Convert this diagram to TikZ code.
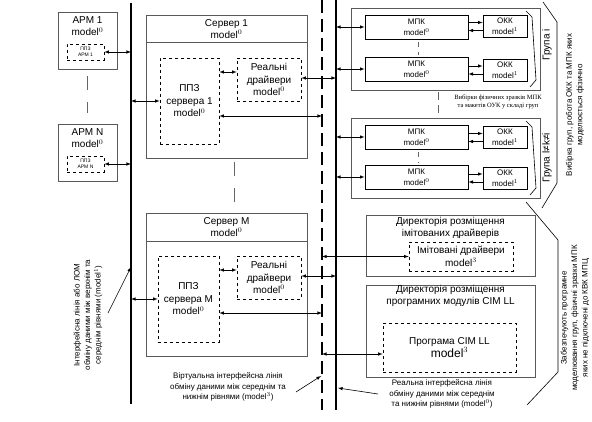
\documentclass[tikz,border=0pt]{standalone}
\usepackage{fontspec}
\setmainfont{Liberation Sans}
\newfontfamily\serifnote{Liberation Serif}
\usetikzlibrary{positioning}

\begin{document}
\begin{tikzpicture}[
    x=1pt, y=-1pt,
    box/.style={rectangle, draw=black!65, line width=0.9pt, inner sep=0pt},
    dbox/.style={rectangle, draw, dashed, line width=0.7pt, inner sep=0pt, align=center, font=\fontsize{10}{12.5}\selectfont},
    unit/.style={rectangle, draw, line width=0.8pt, inner sep=0pt, align=center, font=\fontsize{8}{11}\selectfont},
    title/.style={align=center, font=\fontsize{10}{12}\selectfont},
    note/.style={align=center, font=\fontsize{8}{10.5}\selectfont},
    arrow/.style={<->, >=latex, line width=0.6pt},
    arr/.style={->, >=latex, line width=0.6pt},
    bus/.style={line width=2.4pt},
    vbus/.style={line width=2.4pt, dash pattern=on 13pt off 6pt},
    gap/.style={line width=0.9pt, black!60, dash pattern=on 14pt off 12pt},
    brace/.style={line width=0.6pt}
]
    \useasboundingbox (0,0) rectangle (592,422);

    % Buses
    \coordinate (Ltop) at (131,3);
    \coordinate (Lbot) at (131,404);
    \coordinate (Vtop) at (322,0);
    \coordinate (Vbot) at (322,410);
    \coordinate (Rtop) at (336,0);
    \coordinate (Rbot) at (336,410);
    \draw [bus] (Ltop) -- (Lbot);
    \draw [vbus] (Vtop) -- (Vbot);
    \draw [bus, line width=2pt] (Rtop) -- (Rbot);

    % Workstations
    \node [box, minimum width=59, minimum height=57] (arm1) at (87.5,40.5) {};
    \node [title] (arm1t) at (87.5,26.5) {АРМ 1\\model$^0$};
    \node [dbox, minimum width=37, minimum height=16, font=\fontsize{5}{6}\selectfont] (ppzarm1) at (85.5,52) {ППЗ\\АРМ 1};
    \node [box, minimum width=59, minimum height=57] (armN) at (87.5,152.5) {};
    \node [title] (armNt) at (87.5,138.5) {АРМ N\\model$^0$};
    \node [dbox, minimum width=37, minimum height=16, font=\fontsize{5}{6}\selectfont] (ppzarmN) at (85.5,164) {ППЗ\\АРМ N};
    \draw [gap, shorten <=7pt, shorten >=11pt] (arm1) -- (armN);
    \draw [arrow] (ppzarm1.east) -- (ppzarm1.east -| Ltop);
    \draw [arrow] (ppzarmN.east) -- (ppzarmN.east -| Ltop);

    % Server 1
    \node [box, minimum width=161, minimum height=143] (srv1) at (226.5,86.5) {};
    \draw [line width=0.9pt, black!65] ([yshift=-28]srv1.north west) -- ([yshift=-28]srv1.north east);
    \node [title] (srv1t) at (226.5,29) {Сервер 1\\model$^0$};
    \node [dbox, minimum width=59, minimum height=86] (ppz1) at (189.5,101) {ППЗ\\сервера 1\\model$^0$};
    \node [dbox, minimum width=64, minimum height=43] (drv1) at (269,79.5) {Реальні\\драйвери\\model$^0$};
    \draw [arrow] (ppz1.west -| Ltop) -- (ppz1.west);
    \draw [arrow] ([yshift=7.5]drv1.west) -- ([yshift=7.5]drv1.west -| ppz1.east);
    \draw [arrow] ([yshift=1.5]drv1.east) -- ([yshift=1.5]drv1.east -| Rtop);
    \draw [arrow] ([yshift=-15]ppz1.east) -- ([yshift=-15]ppz1.east -| Vtop);

    % Server M
    \node [box, minimum width=161, minimum height=143] (srvM) at (226.5,284.5) {};
    \draw [line width=0.9pt, black!65] ([yshift=-29]srvM.north west) -- ([yshift=-29]srvM.north east);
    \node [title] (srvMt) at (226.5,227) {Сервер М\\model$^0$};
    \node [dbox, minimum width=61, minimum height=86] (ppzM) at (188.5,299) {ППЗ\\сервера М\\model$^0$};
    \node [dbox, minimum width=64, minimum height=43] (drvM) at (269,277.5) {Реальні\\драйвери\\model$^0$};
    \draw [arrow] (ppzM.west -| Ltop) -- (ppzM.west);
    \draw [arrow] ([yshift=7.5]drvM.west) -- ([yshift=7.5]drvM.west -| ppzM.east);
    \draw [arrow] ([yshift=1.5]drvM.east) -- ([yshift=1.5]drvM.east -| Rtop);
    \draw [arrow] ([yshift=-14]ppzM.east) -- ([yshift=-14]ppzM.east -| Vtop);
    \draw [gap, shorten <=4pt, shorten >=6pt] ([xshift=7.5]srv1.south) -- ([xshift=7.5]srvM.north);

    % Group i
    \node [box, minimum width=189, minimum height=82] (grpi) at (445.5,49) {};
    \node [unit, minimum width=103, minimum height=24] (mpk1) at (416.5,27) {МПК\\model$^0$};
    \node [unit, minimum width=103, minimum height=24] (mpk2) at (416.5,69) {МПК\\model$^0$};
    \node [unit, minimum width=44, minimum height=22] (okk1) at (505,26.5) {ОКК\\model$^1$};
    \node [unit, minimum width=44, minimum height=22] (okk2) at (505,70) {ОКК\\model$^1$};

    % Group l
    \node [box, minimum width=189, minimum height=80] (grpl) at (445.5,158) {};
    \node [unit, minimum width=103, minimum height=24] (mpk3) at (416.5,137) {МПК\\model$^0$};
    \node [unit, minimum width=103, minimum height=24] (mpk4) at (416.5,177) {МПК\\model$^0$};
    \node [unit, minimum width=44, minimum height=22] (okk3) at (505,137.5) {ОКК\\model$^1$};
    \node [unit, minimum width=44, minimum height=22] (okk4) at (505,178) {ОКК\\model$^1$};

    \foreach \m/\o in {mpk1/okk1, mpk2/okk2, mpk3/okk3, mpk4/okk4} {
        \draw [arr] ([yshift=4]\o.west -| \m.east) -- ([yshift=4]\o.west);
        \draw [arr] ([yshift=-4]\o.west) -- ([yshift=-4]\o.west -| \m.east);
        \draw [arrow] (\m.west -| Rtop) -- (\m.west);
    }
    \draw [gap, line width=0.7pt, dash pattern=on 5pt off 5pt, shorten <=3pt, shorten >=2pt] ([xshift=1.5]mpk1.south) -- ([xshift=1.5]mpk2.north);
    \draw [gap, line width=0.7pt, dash pattern=on 5pt off 5pt, shorten <=3pt, shorten >=2pt] ([xshift=1.5]mpk3.south) -- ([xshift=1.5]mpk4.north);
    \draw [gap, line width=0.9pt, dash pattern=on 8pt off 5pt, shorten <=2pt, shorten >=2pt] ([xshift=-7.5]grpi.south) -- ([xshift=-7.5]grpl.north);
    \node [font=\serifnote\fontsize{6.5}{8}\selectfont, align=center] (physnote) at (498,102) {Вибірки фізичних зразків МПК\\та макетів ОУК у складі груп};

    % Group labels and braces
    \draw [brace] (526,11) -- (532,17) -- (536,80) -- (530,87);
    \draw [brace] (526,121) -- (532,127) -- (536,188) -- (530,195);
    \node [title, rotate=90] (grpilbl) at (547,45) {Група і};
    \node [title, rotate=90] (grpllbl) at (547,158) {Група l≠k≠i};
    \draw [brace] (543,2) -- (557,22) -- (557,183) -- (542,208);
    \node [note, rotate=90] (selnote) at (575,105) {Вибірка груп, робота ОКК та МПК яких\\моделюється фізично};

    % Directories
    \node [box, minimum width=169, minimum height=61] (dir1) at (450.5,245.5) {};
    \node [title] (dir1t) at (450.5,228) {Директорія розміщення\\імітованих драйверів};
    \node [dbox, minimum width=104, minimum height=29] (imdrv) at (461,256.5) {Імітовані драйвери\\model$^3$};
    \draw [arrow] (imdrv.west -| Vtop) -- (imdrv.west);
    \node [box, minimum width=169, minimum height=92] (dir2) at (450.5,331) {};
    \node [title] (dir2t) at (450.5,295.5) {Директорія розміщення\\програмних модулів CIM LL};
    \node [dbox, minimum width=133, minimum height=49] (cim) at (449.5,347.5) {Програма CIM LL\\{\fontsize{12}{14}\selectfont model$^3$}};
    \draw [arrow] ([yshift=-6.5]cim.west -| Vtop) -- ([yshift=-6.5]cim.west);
    \draw [brace] (526,202) -- (558,240) -- (558,372) -- (527,405);
    \node [note, rotate=90] (simnote) at (575,318) {Забезпечують програмне\\моделювання груп, фізичні зразки МПК\\яких не підключені до КВК МПЦ};

    % Annotations
    \node [note, rotate=90] (lnote) at (88,315) {Інтерфейсна лінія або ЛОМ\\обміну даними між верхнім та\\середнім рівнями (model$^1$)};
    \coordinate (lnotetip) at (108,313);
    \draw [arr] (lnotetip) -- (131,267);
    \node [note] (vnote) at (228,387) {Віртуальна інтерфейсна лінія\\обміну даними між середнім та\\нижнім рівнями (model$^3$)};
    \coordinate (vnotetip) at (296,392);
    \draw [arr] (vnotetip) -- (321,376);
    \node [note] (rnote) at (442,394) {Реальна інтерфейсна лінія\\обміну даними між середнім\\та нижнім рівнями (model$^0$)};
    \coordinate (rnotetip) at (378,394);
    \draw [arr] (rnotetip) -- (338,388);
\end{tikzpicture}
\end{document}
